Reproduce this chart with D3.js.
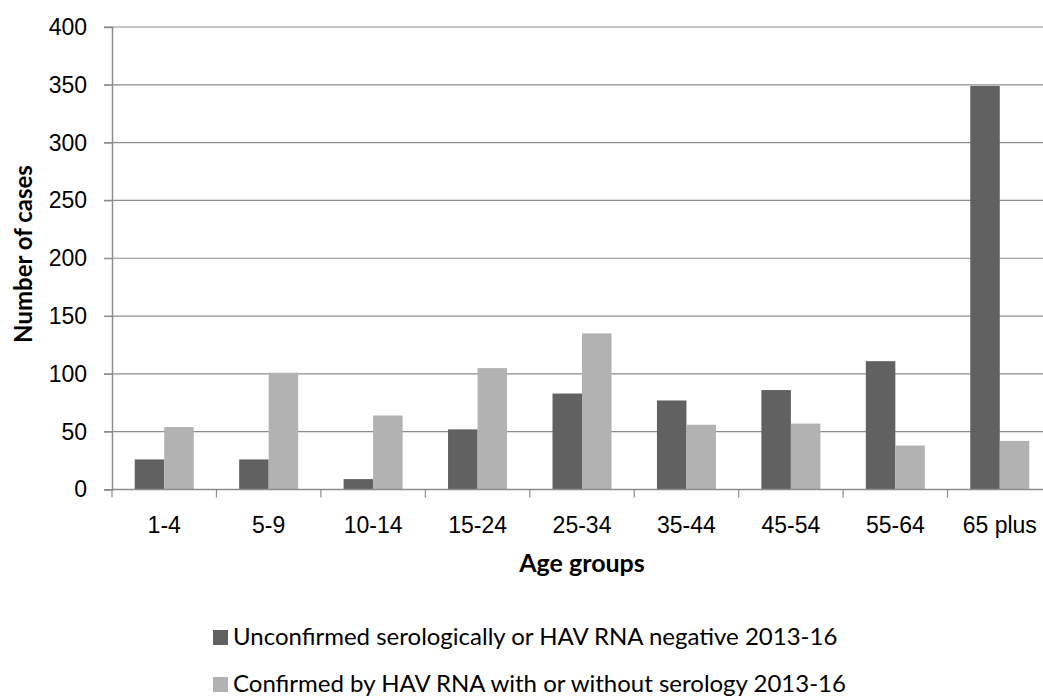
<!DOCTYPE html>
<html>
<head>
<meta charset="utf-8">
<script src="https://cdn.jsdelivr.net/npm/d3@7"></script>
<style>
  html, body { margin: 0; padding: 0; background: #fff; }
  svg { display: block; font-family: Lato, "Open Sans", "Liberation Sans", sans-serif; }
</style>
</head>
<body>
<svg id="chart" width="1043" height="697"></svg>
<script>
// Age groups on the category axis
const ageGroups = ["1-4", "5-9", "10-14", "15-24", "25-34", "35-44", "45-54", "55-64", "65 plus"];
// Case counts per age group
const unconfirmed = [26, 26, 9, 52, 83, 77, 86, 111, 349];
const confirmed = [54, 101, 64, 105, 135, 56, 57, 38, 42];
const seriesNames = [
  "Unconfirmed serologically or HAV RNA negative 2013-16",
  "Confirmed by HAV RNA with or without serology 2013-16"
];
const seriesColors = ["#616161", "#b2b2b2"];
const yTicks = [0, 50, 100, 150, 200, 250, 300, 350, 400];

const svg = d3.select("#chart");
const plot = { left: 112, top: 27, right: 1052, bottom: 489.5 };

const x = d3.scaleBand().domain(ageGroups).range([plot.left, plot.right]).paddingInner(0).paddingOuter(0);
const y = d3.scaleLinear().domain([0, 400]).range([plot.bottom, plot.top]);
const inner = d3.scaleBand().domain([0, 1]).range([0, x.bandwidth()]).paddingInner(0).paddingOuter(0.77);

// Horizontal gridlines
svg.append("g")
  .selectAll("line")
  .data(yTicks)
  .join("line")
  .attr("x1", plot.left - 8)
  .attr("x2", 1043)
  .attr("y1", d => y(d))
  .attr("y2", d => y(d))
  .attr("stroke", "#8c8c8c")
  .attr("stroke-width", 1.2);

// Bars
const rows = ageGroups.map((g, i) => ({ group: g, values: [unconfirmed[i], confirmed[i]] }));
svg.append("g")
  .selectAll("g")
  .data(rows)
  .join("g")
  .attr("transform", d => `translate(${x(d.group)},0)`)
  .selectAll("rect")
  .data(d => d.values.map((v, k) => ({ v, k })))
  .join("rect")
  .attr("x", d => inner(d.k))
  .attr("width", inner.bandwidth())
  .attr("y", d => y(d.v))
  .attr("height", d => y(0) - y(d.v))
  .attr("fill", d => seriesColors[d.k]);

// Y axis
const yAxis = svg.append("g")
  .attr("transform", `translate(${plot.left},0)`)
  .call(d3.axisLeft(y).tickValues(yTicks).tickSize(8).tickPadding(17));
yAxis.select(".domain").attr("stroke", "#8c8c8c").attr("stroke-width", 1.5);
yAxis.selectAll(".tick line").attr("stroke", "#8c8c8c");
yAxis.selectAll(".tick text").attr("font-size", 23).attr("fill", "#000").attr("font-family", null);

// X axis with tick marks at category boundaries
const xAxis = svg.append("g")
  .attr("transform", `translate(0,${plot.bottom})`)
  .call(d3.axisBottom(x).tickSize(0).tickPadding(27));
xAxis.select(".domain").remove();
xAxis.selectAll(".tick text").attr("font-size", 23).attr("fill", "#000").attr("font-family", null);
svg.append("line")
  .attr("x1", plot.left).attr("x2", 1043)
  .attr("y1", plot.bottom).attr("y2", plot.bottom)
  .attr("stroke", "#8c8c8c").attr("stroke-width", 1.5);
svg.append("g")
  .selectAll("line")
  .data(ageGroups)
  .join("line")
  .attr("x1", d => x(d)).attr("x2", d => x(d))
  .attr("y1", plot.bottom).attr("y2", plot.bottom + 8)
  .attr("stroke", "#8c8c8c").attr("stroke-width", 1.2);

// Axis titles
svg.append("text")
  .attr("x", 582).attr("y", 572)
  .attr("text-anchor", "middle")
  .attr("font-size", 25).attr("font-weight", "bold")
  .text("Age groups");
svg.append("text")
  .attr("transform", `translate(32,254) rotate(-90)`)
  .attr("text-anchor", "middle")
  .attr("font-size", 24).attr("font-weight", "bold")
  .text("Number of cases");

// Legend
const legend = svg.append("g")
  .selectAll("g")
  .data(seriesNames)
  .join("g")
  .attr("transform", (d, i) => `translate(213,${645 + i * 47})`);
legend.append("rect")
  .attr("x", 0).attr("y", -15).attr("width", 15).attr("height", 15)
  .attr("fill", (d, i) => seriesColors[i]);
legend.append("text")
  .attr("x", 20).attr("y", 0)
  .attr("font-size", 24)
  .text(d => d);
</script>
</body>
</html>
